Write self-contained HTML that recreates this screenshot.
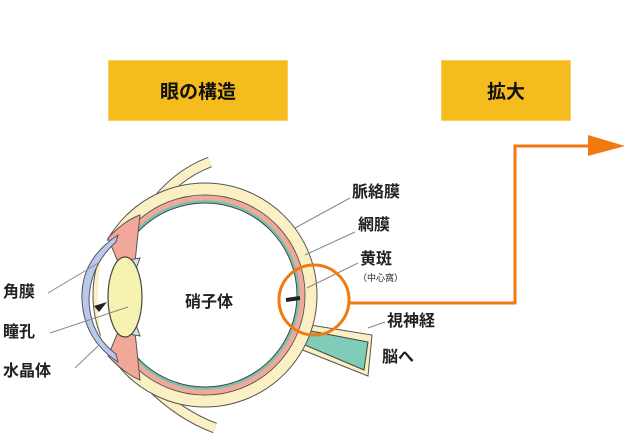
<!DOCTYPE html>
<html><head><meta charset="utf-8"><style>
html,body{margin:0;padding:0;background:#fff;}
body{width:630px;height:440px;position:relative;overflow:hidden;font-family:"Liberation Sans","Noto Sans CJK JP",sans-serif;}
.box{position:absolute;background:#f5bc1e;border:1px solid #f8cf60;box-sizing:border-box;display:flex;align-items:center;justify-content:center;font-weight:bold;font-size:19px;color:#111;}
.t{position:absolute;font-size:16px;font-weight:bold;color:#222;white-space:nowrap;line-height:1;}
svg{position:absolute;left:0;top:0;}
</style></head><body>
<div class="box" style="left:108px;top:60px;width:180px;height:61px;">眼の構造</div>
<div class="box" style="left:441px;top:60px;width:130px;height:61px;">拡大</div>
<svg width="630" height="440" viewBox="0 0 630 440">
 <!-- eyelid/muscle strips -->
 <path d="M150 210 Q175 175 210 162" stroke="#555" stroke-width="11" fill="none"/>
 <path d="M150 210 Q175 175 210 162" stroke="#fbefc4" stroke-width="9" fill="none"/>
 <path d="M150 385 Q180 415 215 428" stroke="#555" stroke-width="11" fill="none"/>
 <path d="M150 385 Q180 415 215 428" stroke="#fbefc4" stroke-width="9" fill="none"/>
 <!-- optic nerve -->
 <path d="M292 322 L372 335 L368 376 L290 345 Z" fill="#fbefc4" stroke="#555" stroke-width="1"/>
 <path d="M295 328 L368 342 L364 370 L293 340 Z" fill="#7fcdb8" stroke="#444" stroke-width="1"/>
 <!-- eye layers -->
 <circle cx="205" cy="295" r="106" fill="#fff" stroke="#fbefc4" stroke-width="12"/>
 <circle cx="205" cy="295" r="112" fill="none" stroke="#555" stroke-width="1"/>
 <circle cx="205" cy="295" r="100" fill="none" stroke="#555" stroke-width="1"/>
 <circle cx="205" cy="295" r="97" fill="none" stroke="#f2a898" stroke-width="5"/>
 <circle cx="205" cy="295" r="93.5" fill="none" stroke="#6fc4ac" stroke-width="2.5"/>
 <circle cx="205" cy="295" r="92" fill="none" stroke="#444" stroke-width="1"/>
 <!-- front white to cut layers -->
 <path d="M104 240 Q92 297 104 355 L125 350 L125 245 Z" fill="#fff"/>
 <!-- ciliary pink -->
 <path d="M108 238 Q125 220 140 215 L135 262 L118 262 Z" fill="#f2a898" stroke="#555" stroke-width="1"/>
 <path d="M108 356 Q125 374 140 380 L135 332 L118 332 Z" fill="#f2a898" stroke="#555" stroke-width="1"/>
 <path d="M118 262 L140 258 L135 272 Z M118 332 L140 336 L135 322 Z" fill="#cfe9e4" stroke="#555" stroke-width="1"/>
 <!-- cornea -->
 <path d="M118 235 Q80 260 82 300 Q84 340 118 362 L116 354 Q90 335 89 300 Q90 265 116 242 Z" fill="#b9c8ef" stroke="#555" stroke-width="1"/>
 <!-- lens -->
 <ellipse cx="125" cy="297" rx="17" ry="40" fill="#f6f3b0" stroke="#444" stroke-width="1.2"/>
 <!-- leader lines -->
 <g stroke="#888" stroke-width="1" fill="none">
  <line x1="48" y1="293" x2="100" y2="262"/>
  <line x1="50" y1="333" x2="128" y2="307"/>
  <line x1="75" y1="368" x2="98" y2="346"/>
  <line x1="295" y1="228" x2="350" y2="198"/>
  <line x1="305" y1="255" x2="355" y2="232"/>
  <line x1="307" y1="288" x2="358" y2="263"/>
  <line x1="368" y1="328" x2="385" y2="322"/>
 </g>
 <path d="M94 306 L107 302 L99 312 Z" fill="#222"/>
 <path d="M286 300 L300 298" stroke="#222" stroke-width="4"/>
 <!-- orange -->
 <circle cx="314" cy="300" r="35" fill="none" stroke="#f07a10" stroke-width="3"/>
 <polyline points="349,303 515,303 515,146 590,146" fill="none" stroke="#f07a10" stroke-width="3"/>
 <path d="M588 135 L625 146 L588 156 Z" fill="#f07a10"/>
</svg>
<div class="t" style="left:185px;top:295px;">硝子体</div>
<div class="t" style="left:3px;top:285px;">角膜</div>
<div class="t" style="left:3px;top:325px;">瞳孔</div>
<div class="t" style="left:3px;top:364px;">水晶体</div>
<div class="t" style="left:352px;top:185px;">脈絡膜</div>
<div class="t" style="left:358px;top:218px;">網膜</div>
<div class="t" style="left:360px;top:252px;">黄斑</div>
<div class="t" style="left:358px;top:274px;font-size:9px;font-weight:normal;">（中心窩）</div>
<div class="t" style="left:387px;top:314px;">視神経</div>
<div class="t" style="left:382px;top:350px;">脳へ</div>
</body></html>
